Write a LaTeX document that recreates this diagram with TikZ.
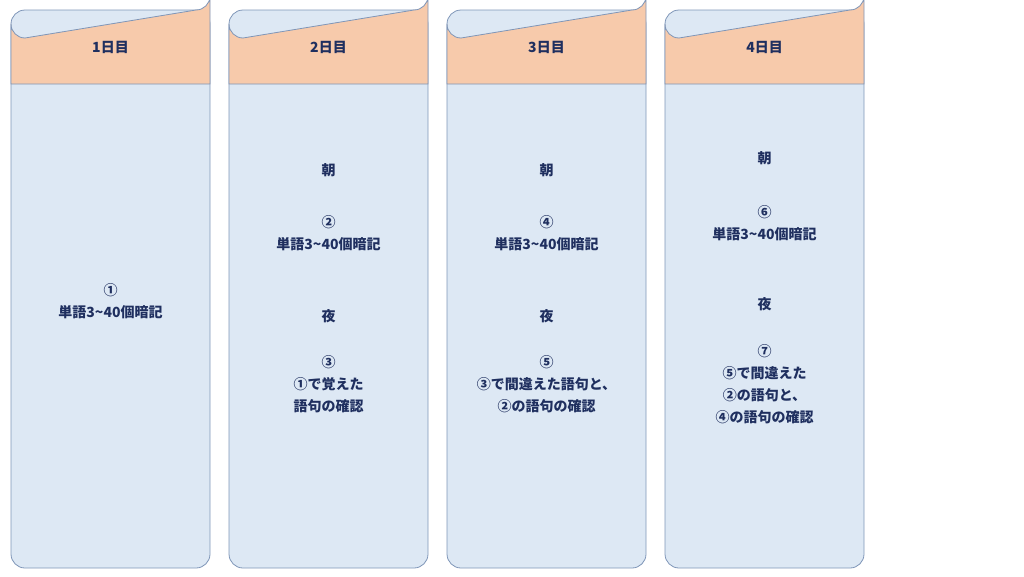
\documentclass[tikz,border=0pt]{standalone}
\usepackage{fontspec}
\setmainfont{Noto Sans CJK JP}
\begin{document}
\begin{tikzpicture}[x=1pt,y=-1pt,
  body/.style={draw=black!45!blue!40!gray,fill=blue!10!cyan!6!white,line width=0.8pt,rounded corners=14pt},
  head/.style={draw=black!45!blue!40!gray,fill=orange!40!pink!60!white,line width=0.8pt},
  txt/.style={font=\fontsize{14}{22}\selectfont\bfseries,text=blue!40!black,align=center,inner sep=0pt}]
\useasboundingbox (0,0) rectangle (1024,576);
\definecolor{bd}{HTML}{7F96B8}
\definecolor{bf}{HTML}{DDE8F4}
\definecolor{hf}{HTML}{F7CAAB}
\definecolor{tx}{HTML}{1F2F5F}
\tikzset{body/.append style={draw=bd,fill=bf},head/.append style={draw=bd,fill=hf},txt/.append style={text=tx}}
\foreach \x/\n in {11/1,229/2,447/3,665/4}{
  \draw[body] (\x,10) rectangle (\x+199,568);
  \draw[head] (\x,84) -- (\x,24) arc[start angle=180,end angle=90,radius=14] -- (\x+185,10) arc[start angle=90,end angle=0,radius=14] -- (\x+199,84) -- cycle;
  \node[txt] (h\n) at (\x+99.5,47) {\n 日目};
}
\node[txt] (c1a) at (110.5,301) {①\\単語3\textasciitilde40個暗記};
\node[txt] (c2a) at (328.5,170) {朝};
\node[txt] (c2b) at (328.5,233.5) {②\\単語3\textasciitilde40個暗記};
\node[txt] (c2c) at (328.5,316) {夜};
\node[txt] (c2d) at (328.5,384.5) {③\\①で覚えた\\語句の確認};
\node[txt] (c3a) at (546.5,170) {朝};
\node[txt] (c3b) at (546.5,233.5) {④\\単語3\textasciitilde40個暗記};
\node[txt] (c3c) at (546.5,316) {夜};
\node[txt] (c3d) at (546.5,384.5) {⑤\\③で間違えた語句と、\\②の語句の確認};
\node[txt] (c4a) at (764.5,158) {朝};
\node[txt] (c4b) at (764.5,223.5) {⑥\\単語3\textasciitilde40個暗記};
\node[txt] (c4c) at (764.5,304) {夜};
\node[txt] (c4d) at (764.5,384.5) {⑦\\⑤で間違えた\\②の語句と、\\④の語句の確認};
\end{tikzpicture}
\end{document}
